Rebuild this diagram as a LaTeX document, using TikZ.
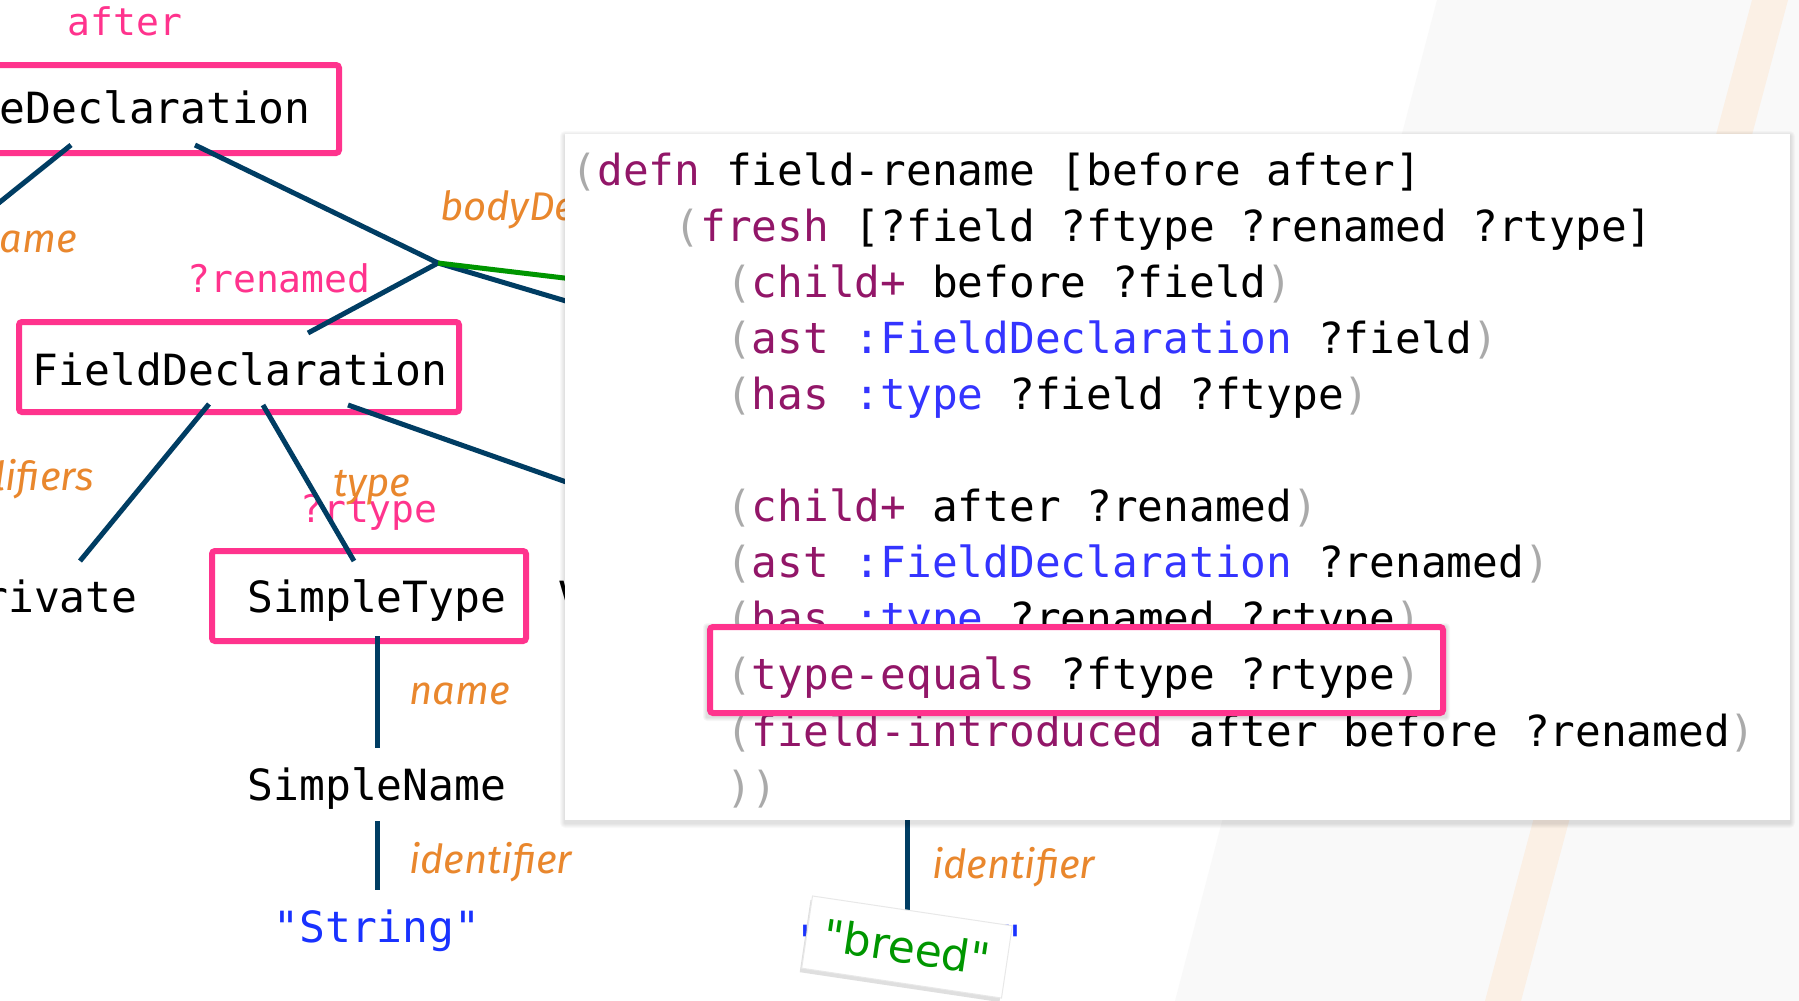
\documentclass[tikz,border=0pt]{standalone}
\usepackage{fontspec}
\usetikzlibrary{calc,shadows}
\newfontfamily\codefont{DejaVu Sans Mono}
\newfontfamily\handfont{Fira Sans}
\newfontfamily\cardfont{DejaVu Sans}
\definecolor{pinkc}{RGB}{255,51,141}
\definecolor{navyc}{RGB}{0,61,99}
\definecolor{greenc}{RGB}{0,150,0}
\definecolor{orangec}{RGB}{233,135,45}
\definecolor{strbluec}{RGB}{25,50,255}
\definecolor{parenc}{RGB}{170,170,170}
\definecolor{kwc}{RGB}{146,22,104}
\definecolor{kwbc}{RGB}{52,52,255}
\definecolor{bggray}{RGB}{249,249,249}
\definecolor{peachc}{RGB}{251,240,229}
\definecolor{cardedge}{RGB}{232,232,232}
\newcommand\cpar[1]{\textcolor{parenc}{#1}}
\newcommand\ckw[1]{\textcolor{kwc}{#1}}
\newcommand\ckb[1]{\textcolor{kwbc}{#1}}
\tikzset{
  pinkbox/.style={draw=pinkc, line width=6pt, rounded corners=3pt, inner sep=0pt},
  treetext/.style={font=\codefont\fontsize{43}{50}\selectfont, anchor=base, inner sep=0pt},
  pinklabel/.style={font=\codefont\fontsize{38}{44}\selectfont, text=pinkc, anchor=base, inner sep=0pt},
  edgelabel/.style={font=\handfont\itshape\fontsize{40}{46}\selectfont, text=orangec, inner sep=0pt},
  edge/.style={draw=navyc, line width=5pt},
  greenedge/.style={draw=greenc, line width=5pt},
  codeline/.style={font=\codefont\fontsize{42.75}{50}\selectfont, anchor=base west, inner sep=0pt},
  codebox/.style={fill=white, inner sep=0pt},
  card/.style={fill=white, draw=cardedge, line width=1pt, inner sep=0pt, text=greenc, font=\cardfont\fontsize{44}{50}\selectfont,
    drop shadow={shadow xshift=-2pt, shadow yshift=-4pt, opacity=0.25}},
}
\begin{document}
\begin{tikzpicture}[x=1pt,y=-1pt]
\useasboundingbox (0,0) rectangle (1799,1001);
\clip (0,0) rectangle (1799,1001);
% background
\fill[white] (0,0) rectangle (1799,1001);
\fill[bggray] (1437,0) -- (1799,0) -- (1799,1001) -- (1175,1001) -- cycle;
\fill[peachc] (1752,0) -- (1788,0) -- (1521,1001) -- (1485,1001) -- cycle;

% tree boxes
\node[pinkbox, minimum width=368pt, minimum height=88pt] (tdbox) at (155,109) {};
\node[pinkbox, minimum width=440pt, minimum height=90pt] (fdbox) at (239,367) {};
\node[pinkbox, minimum width=314pt, minimum height=90pt] (stbox) at (369,596) {};

% tree texts
\node[treetext] (td) at (155,123) {eDeclaration};
\node[treetext] (fd) at (240,385) {FieldDeclaration};
\node[treetext] (pv) at (60,612) {rivate};
\node[treetext] (st) at (377,612) {SimpleType};
\node[treetext] (sn) at (377,800) {SimpleName};
\node[treetext, text=strbluec] (str) at (377,942) {"String"};
\node[treetext, anchor=base west] (vd) at (558,612) {V};

% pink labels
\node[pinklabel] (lafter) at (125,35) {after};
\node[pinklabel] (lren) at (279,292) {?renamed};
\node[pinklabel] (lrt) at (369,522) {?rtype};

% orange labels
\node[edgelabel, anchor=base east] (lname1) at (77,252) {ame};
\node[edgelabel, anchor=base west] (lbody) at (440,220) {bodyDe};
\node[edgelabel, anchor=base east] (lmod) at (94,490) {lifiers};
\node[edgelabel, anchor=base west] (ltype) at (333,496) {type};
\node[edgelabel, anchor=base west] (lname2) at (409,704) {name};
\node[edgelabel, anchor=base west] (lid1) at (409,873) {identifier};

% connector points
\coordinate (tdA) at (71,145);
\coordinate (offA) at (-10,210);
\coordinate (tdB) at (195,145);
\coordinate (j) at (438,263);
\coordinate (fdtop) at (308,333);
\coordinate (offB) at (640,323);
\coordinate (offG) at (640,287);
\coordinate (fdA) at (209,404);
\coordinate (pvtop) at (80,561);
\coordinate (fdB) at (263,405);
\coordinate (sttop) at (354,561);
\coordinate (fdC) at (348,405);
\coordinate (offC) at (640,508);
\coordinate (stbot) at (377,636);
\coordinate (sntop) at (377,748);
\coordinate (snbot) at (377,821);
\coordinate (strtop) at (377,890);
\coordinate (vsn) at (907,780);
\coordinate (brtop) at (907,915);

% connectors
\draw[edge] (tdA) -- (offA);
\draw[edge] (tdB) -- (j);
\draw[edge] (j) -- (fdtop);
\draw[edge] (j) -- (offB);
\draw[greenedge] (j) -- (offG);
\draw[edge] (fdA) -- (pvtop);
\draw[edge] (fdB) -- (sttop);
\draw[edge] (fdC) -- (offC);
\draw[edge] (stbot) -- (sntop);
\draw[edge] (snbot) -- (strtop);
\draw[edge] (vsn) -- (brtop);

% code panel shadow
\foreach \k in {1,...,5} {
  \fill[black, opacity=0.025, rounded corners=\k pt] (565-\k,134-\k+2) rectangle (1790+\k,820+\k+3);
}
\node[codebox, minimum width=1225pt, minimum height=686pt, anchor=north west] (code) at (565,134) {};

% code lines
\node[codeline] (c1) at (571.5,185) {\cpar{(}\ckw{defn} field-rename [before after]};
\node[codeline] (c2) at (674.5,241.1) {\cpar{(}\ckw{fresh} [?field ?ftype ?renamed ?rtype]};
\node[codeline] (c3) at (726,297.2) {\cpar{(}\ckw{child+} before ?field\cpar{)}};
\node[codeline] (c4) at (726,353.3) {\cpar{(}\ckw{ast} \ckb{:FieldDeclaration} ?field\cpar{)}};
\node[codeline] (c5) at (726,409.4) {\cpar{(}\ckw{has} \ckb{:type} ?field ?ftype\cpar{)}};
\node[codeline] (c7) at (726,521.6) {\cpar{(}\ckw{child+} after ?renamed\cpar{)}};
\node[codeline] (c8) at (726,577.7) {\cpar{(}\ckw{ast} \ckb{:FieldDeclaration} ?renamed\cpar{)}};
\node[codeline] (c9) at (726,633.8) {\cpar{(}\ckw{has} \ckb{:type} ?renamed ?rtype\cpar{)}};
\node[codeline] (c11) at (726,746) {\cpar{(}\ckw{field-introduced} after before ?renamed\cpar{)}};
\node[codeline] (c12) at (726,802.1) {\cpar{))}};

% highlight card
\foreach \k in {1,...,4} {
  \fill[black, opacity=0.03, rounded corners=\k pt] (710-\k-3,627-\k) rectangle (1443+\k+3,713+\k+4);
}
\node[pinkbox, fill=white, minimum width=733pt, minimum height=86pt] (hl) at (1076.5,670) {};
\node[codeline] (c10) at (726,689.9) {\cpar{(}\ckw{type-equals} ?ftype ?rtype\cpar{)}};

% lower right
\node[edgelabel, anchor=base west] (lid2) at (932,878) {identifier};
\node[treetext, text=strbluec] (bq) at (910,956) {"\hspace{176pt}"};
\node[card, rotate=-8.5, minimum width=202pt, minimum height=73pt] (breed) at (907,947) {"breed"};
\end{tikzpicture}
\end{document}
